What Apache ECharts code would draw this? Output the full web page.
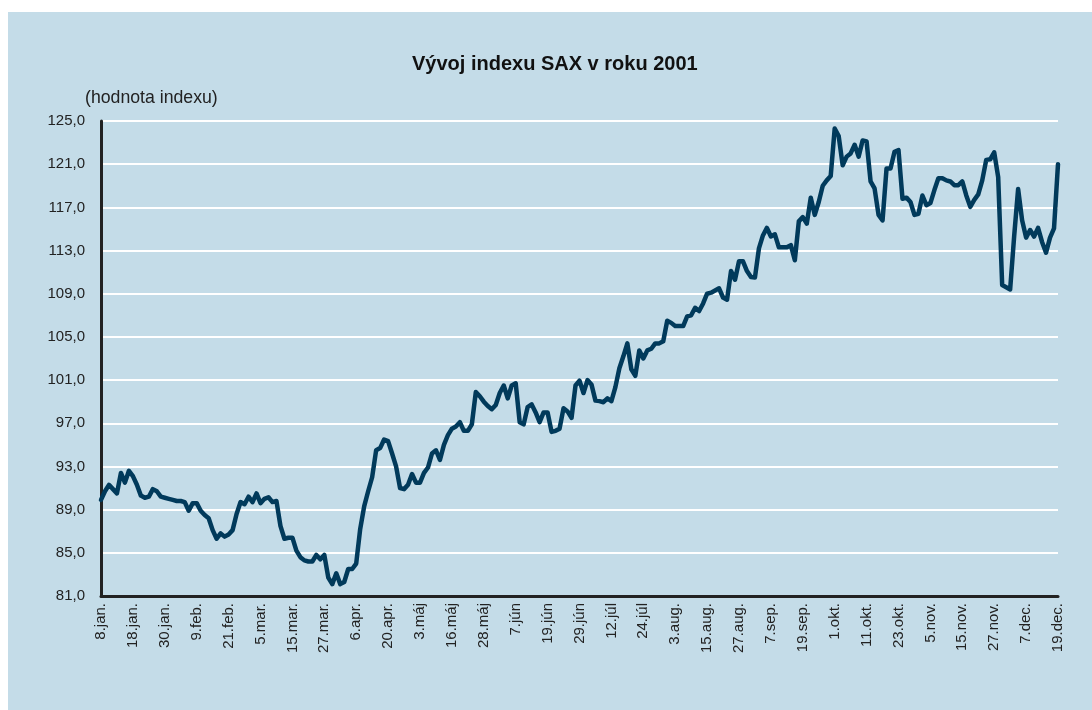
<!DOCTYPE html>
<html>
<head>
<meta charset="utf-8">
<script src="https://cdn.jsdelivr.net/npm/echarts@6/dist/echarts.min.js"></script>
<style>
    html, body { margin: 0; padding: 0; background: #fff; }
    #wrap { position: relative; width: 1092px; height: 710px; overflow: hidden; }
    #panel { position: absolute; left: 8px; top: 12px; right: 0; bottom: 0; background: #c4dce8; }
    #main { position: absolute; left: 0; top: 0; width: 1092px; height: 710px; }
</style>
</head>
<body>
<div id="wrap">
    <div id="panel"></div>
    <div id="main"></div>
</div>
<script>
// labels under the x axis, one every 8 trading days
const tickLabels = ['8.jan.', '18.jan.', '30.jan.', '9.feb.', '21.feb.', '5.mar.', '15.mar.', '27.mar.',
    '6.apr.', '20.apr.', '3.máj', '16.máj', '28.máj', '7.jún', '19.jún', '29.jún', '12.júl', '24.júl',
    '3.aug.', '15.aug.', '27.aug.', '7.sep.', '19.sep.', '1.okt.', '11.okt.', '23.okt.', '5.nov.',
    '15.nov.', '27.nov.', '7.dec.', '19.dec.'];

const labelStep = 8;

// daily SAX index values
const saxJan = [89.9, 90.7, 91.3, 90.9, 90.5, 92.4, 91.5, 92.6, 92.1, 91.3, 90.3, 90.1, 90.2, 90.9, 90.7, 90.2,
    90.1, 90.0, 89.9, 89.8, 89.8, 89.7, 88.9, 89.6];
const saxFeb = [89.6, 88.9, 88.5, 88.2, 87.1, 86.3, 86.8, 86.5, 86.7, 87.1, 88.6, 89.7, 89.5, 90.2, 89.7, 90.5];
const saxMar = [89.6, 90.0, 90.15, 89.7, 89.8, 87.5, 86.3, 86.4, 86.4, 85.2, 84.6, 84.3, 84.2, 84.2, 84.8, 84.4,
    84.8, 82.7, 82.1, 83.1, 82.1, 82.3, 83.5, 83.5];
const saxApr = [84.0, 87.2, 89.3, 90.7, 92.0, 94.5, 94.7, 95.5, 95.35, 94.2, 93.0, 91.0, 90.9, 91.3, 92.3, 91.5];
const saxMay = [91.5, 92.4, 92.9, 94.2, 94.5, 93.6, 95.0, 95.9, 96.5, 96.7, 97.1, 96.3, 96.3, 96.9, 99.9, 99.5,
    99.0, 98.6, 98.3, 98.7, 99.8, 100.5, 99.3, 100.5];
const saxJun = [100.7, 97.1, 96.9, 98.5, 98.75, 98.0, 97.1, 98.0, 98.0, 96.2, 96.3, 96.5, 98.4, 98.1, 97.5, 100.5];
const saxJul = [100.95, 99.8, 101.0, 100.6, 99.1, 99.05, 98.95, 99.3, 99.05, 100.35, 102.1, 103.2, 104.4, 102.0,
    101.4, 103.75, 103.0, 103.75, 103.9, 104.4, 104.4, 104.6, 106.5, 106.3];
const saxAug = [106.0, 106.0, 106.0, 106.9, 107.0, 107.7, 107.4, 108.1, 109.0, 109.1, 109.3, 109.5, 108.65, 108.45,
    111.1, 110.3];
const saxSep = [112.0, 112.0, 111.1, 110.55, 110.5, 113.2, 114.4, 115.1, 114.3, 114.5, 113.3, 113.3, 113.3, 113.5,
    112.1, 115.7, 116.1, 115.5, 117.9, 116.3, 117.5, 119.0, 119.5, 119.9];
const saxOct = [124.3, 123.6, 120.9, 121.7, 122.0, 122.8, 121.7, 123.2, 123.1, 119.4, 118.75, 116.3, 115.8, 120.6,
    120.6, 122.15, 122.3, 117.8, 117.9, 117.5, 116.3, 116.4, 118.1, 117.2];
const saxNov = [117.4, 118.6, 119.7, 119.7, 119.5, 119.4, 119.05, 119.05, 119.4, 118.1, 117.05, 117.7, 118.2, 119.5,
    121.4, 121.45];
const saxDec = [122.1, 119.8, 109.8, 109.6, 109.4, 114.3, 118.7, 115.8, 114.2, 114.9, 114.3, 115.1, 113.8, 112.8,
    114.2, 115.05, 121.0];

const sax = [].concat(saxJan, saxFeb, saxMar, saxApr, saxMay, saxJun, saxJul, saxAug, saxSep, saxOct, saxNov, saxDec);
const days = sax.map((v, i) => String(i));

const yMin = 81, yMax = 125, yStep = 4;

let chart = echarts.init(document.getElementById('main'), null, {renderer: 'canvas'});

let option = {
    backgroundColor: 'transparent',
    animation: false,
    textStyle: {
        fontFamily: 'Liberation Sans, Arial, sans-serif'
    },
    title: [{
        text: 'Vývoj indexu SAX v roku 2001',
        left: 407,
        top: 49,
        textStyle: {
            fontSize: 20,
            fontWeight: 'bold',
            color: '#111'
        }
    }, {
        text: '(hodnota indexu)',
        left: 80,
        top: 84,
        textStyle: {
            fontSize: 17.7,
            fontWeight: 'normal',
            color: '#222'
        }
    }],
    grid: {
        left: 101,
        right: 34,
        top: 121,
        bottom: 114,
        containLabel: false
    },
    xAxis: {
        type: 'category',
        data: days,
        boundaryGap: false,
        axisLine: {
            show: true,
            lineStyle: {color: '#222', width: 3}
        },
        axisTick: {show: false},
        splitLine: {show: false},
        axisLabel: {
            interval: labelStep - 1,
            rotate: 90,
            margin: 7,
            fontSize: 15,
            color: '#222',
            formatter: function (value, idx) {
                return tickLabels[Math.round(idx / labelStep)] || '';
            }
        }
    },
    yAxis: {
        type: 'value',
        min: yMin,
        max: yMax,
        interval: yStep,
        axisLine: {
            show: true,
            lineStyle: {color: '#222', width: 3}
        },
        axisTick: {show: false},
        splitLine: {
            show: true,
            lineStyle: {color: '#ffffff', width: 2}
        },
        axisLabel: {
            margin: 16,
            fontSize: 15,
            color: '#222',
            formatter: function (v) {
                return v.toFixed(1).replace('.', ',');
            }
        }
    },
    series: [{
        name: 'SAX',
        type: 'line',
        data: sax,
        showSymbol: false,
        symbol: 'none',
        smooth: false,
        z: 5,
        lineStyle: {
            color: '#013a5b',
            width: 4.5,
            join: 'round',
            cap: 'round'
        }
    }]
};

chart.setOption(option);
</script>
</body>
</html>
